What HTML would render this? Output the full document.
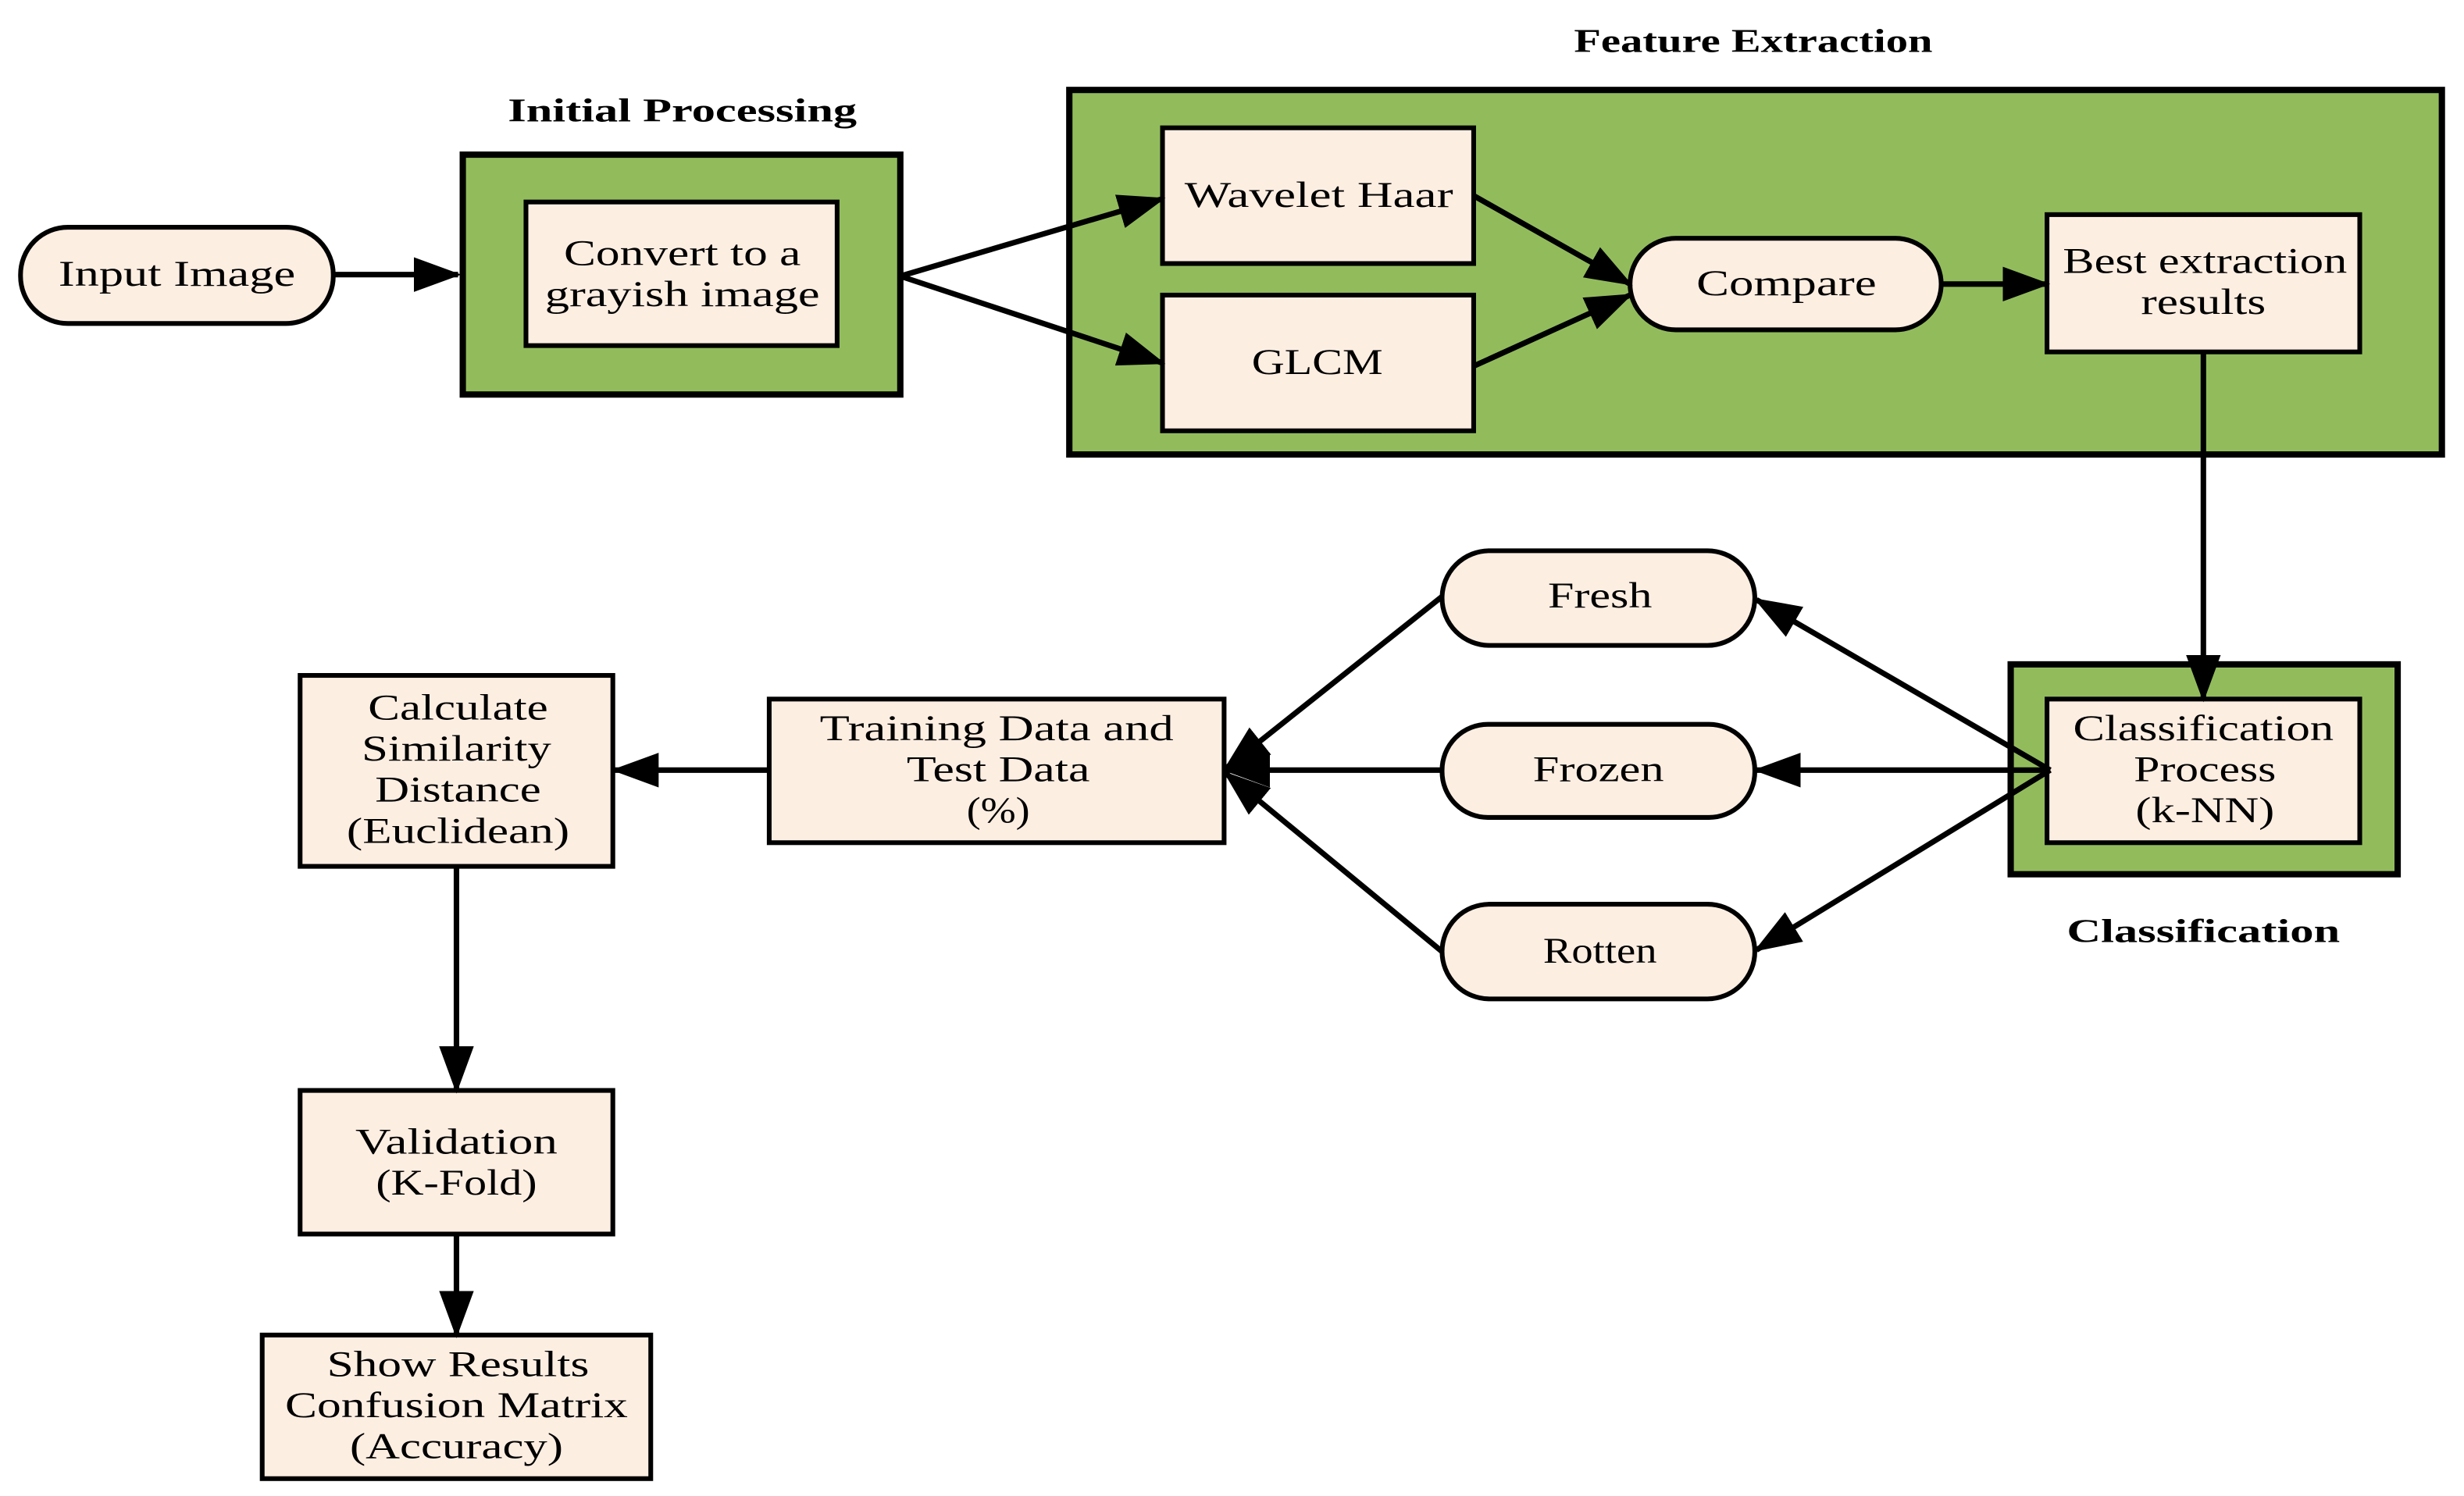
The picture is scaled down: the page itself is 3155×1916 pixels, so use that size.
<!DOCTYPE html>
<html><head><meta charset="utf-8"><style>
html,body{margin:0;padding:0;background:#fff;}
svg{display:block;}
text{font-family:"Liberation Serif",serif;font-size:23px;fill:#000;text-anchor:middle;}
.t{font-weight:bold;font-size:21px;}
.n{fill:#fdeee2;stroke:#000;stroke-width:3;}
.g{fill:#92bc5c;stroke:#000;stroke-width:4;}
.l{stroke:#000;stroke-width:3.5;fill:none;}
</style></head><body>
<svg width="3155" height="1916" viewBox="0 0 1560 948" preserveAspectRatio="none" xmlns="http://www.w3.org/2000/svg">
<defs>
<marker id="a" markerUnits="userSpaceOnUse" markerWidth="30" markerHeight="22" refX="28" refY="11" orient="auto">
<path d="M0,0 L30,11 L0,22 Z" fill="#000"/>
</marker>
</defs>
<rect x="0" y="0" width="1560" height="948" fill="#fff"/>

<text class="t" x="432" y="77" textLength="221" lengthAdjust="spacingAndGlyphs">Initial Processing</text>
<text class="t" x="1110" y="33" textLength="227" lengthAdjust="spacingAndGlyphs">Feature Extraction</text>
<text class="t" x="1395" y="597" textLength="173" lengthAdjust="spacingAndGlyphs">Classification</text>

<rect class="g" x="293" y="98" width="277" height="152"/>
<rect class="g" x="677" y="57" width="869" height="231"/>
<rect class="g" x="1273" y="421" width="245" height="133"/>

<rect class="n" x="13" y="144" width="198" height="61" rx="30"/>
<text x="112" y="181" textLength="150" lengthAdjust="spacingAndGlyphs">Input Image</text>

<rect class="n" x="333" y="128" width="197" height="91"/>
<text x="432" y="168" textLength="150" lengthAdjust="spacingAndGlyphs">Convert to a</text>
<text x="432" y="194" textLength="174" lengthAdjust="spacingAndGlyphs">grayish image</text>

<rect class="n" x="736" y="81" width="197" height="86"/>
<text x="835" y="131" textLength="170" lengthAdjust="spacingAndGlyphs">Wavelet Haar</text>
<rect class="n" x="736" y="187" width="197" height="86"/>
<text x="834" y="237" textLength="83" lengthAdjust="spacingAndGlyphs">GLCM</text>

<rect class="n" x="1032" y="151" width="197" height="58" rx="29"/>
<text x="1131" y="187" textLength="114" lengthAdjust="spacingAndGlyphs">Compare</text>

<rect class="n" x="1296" y="136" width="198" height="87"/>
<text x="1396" y="173" textLength="180" lengthAdjust="spacingAndGlyphs">Best extraction</text>
<text x="1395" y="199" textLength="79" lengthAdjust="spacingAndGlyphs">results</text>

<rect class="n" x="1296" y="443" width="198" height="91"/>
<text x="1395" y="469" textLength="165" lengthAdjust="spacingAndGlyphs">Classification</text>
<text x="1396" y="495" textLength="90" lengthAdjust="spacingAndGlyphs">Process</text>
<text x="1396" y="521" textLength="88" lengthAdjust="spacingAndGlyphs">(k-NN)</text>

<rect class="n" x="913" y="349" width="198" height="60" rx="30"/>
<text x="1013" y="385" textLength="66" lengthAdjust="spacingAndGlyphs">Fresh</text>
<rect class="n" x="913" y="459" width="198" height="59" rx="29"/>
<text x="1012" y="495" textLength="83" lengthAdjust="spacingAndGlyphs">Frozen</text>
<rect class="n" x="913" y="573" width="198" height="60" rx="30"/>
<text x="1013" y="610" textLength="72" lengthAdjust="spacingAndGlyphs">Rotten</text>

<rect class="n" x="487" y="443" width="288" height="91"/>
<text x="631" y="469" textLength="224" lengthAdjust="spacingAndGlyphs">Training Data and</text>
<text x="632" y="495" textLength="116" lengthAdjust="spacingAndGlyphs">Test Data</text>
<text x="632" y="521" textLength="40" lengthAdjust="spacingAndGlyphs">(%)</text>

<rect class="n" x="190" y="428" width="198" height="121"/>
<text x="290" y="456" textLength="114" lengthAdjust="spacingAndGlyphs">Calculate</text>
<text x="289" y="482" textLength="120" lengthAdjust="spacingAndGlyphs">Similarity</text>
<text x="290" y="508" textLength="105" lengthAdjust="spacingAndGlyphs">Distance</text>
<text x="290" y="534" textLength="141" lengthAdjust="spacingAndGlyphs">(Euclidean)</text>

<rect class="n" x="190" y="691" width="198" height="91"/>
<text x="289" y="731" textLength="128" lengthAdjust="spacingAndGlyphs">Validation</text>
<text x="289" y="757" textLength="102" lengthAdjust="spacingAndGlyphs">(K-Fold)</text>

<rect class="n" x="166" y="846" width="246" height="91"/>
<text x="290" y="872" textLength="166" lengthAdjust="spacingAndGlyphs">Show Results</text>
<text x="289" y="898" textLength="217" lengthAdjust="spacingAndGlyphs">Confusion Matrix</text>
<text x="289" y="924" textLength="135" lengthAdjust="spacingAndGlyphs">(Accuracy)</text>

<line class="l" x1="211" y1="174" x2="290" y2="174" marker-end="url(#a)"/>
<line class="l" x1="570" y1="175" x2="736" y2="126" marker-end="url(#a)"/>
<line class="l" x1="570" y1="175" x2="736" y2="230" marker-end="url(#a)"/>
<line class="l" x1="933" y1="124" x2="1032" y2="180" marker-end="url(#a)"/>
<line class="l" x1="933" y1="232" x2="1032" y2="187" marker-end="url(#a)"/>
<line class="l" x1="1229" y1="180" x2="1296" y2="180" marker-end="url(#a)"/>
<line class="l" x1="1395" y1="223" x2="1395" y2="443" marker-end="url(#a)"/>
<line class="l" x1="1298" y1="488" x2="1112" y2="380" marker-end="url(#a)"/>
<line class="l" x1="1298" y1="488" x2="1112" y2="488" marker-end="url(#a)"/>
<line class="l" x1="1298" y1="488" x2="1112" y2="602" marker-end="url(#a)"/>
<line class="l" x1="913" y1="378" x2="776" y2="487" marker-end="url(#a)"/>
<line class="l" x1="913" y1="488" x2="776" y2="488" marker-end="url(#a)"/>
<line class="l" x1="913" y1="603" x2="776" y2="490" marker-end="url(#a)"/>
<line class="l" x1="487" y1="488" x2="389" y2="488" marker-end="url(#a)"/>
<line class="l" x1="289" y1="549" x2="289" y2="691" marker-end="url(#a)"/>
<line class="l" x1="289" y1="782" x2="289" y2="846" marker-end="url(#a)"/>
</svg>
</body></html>
